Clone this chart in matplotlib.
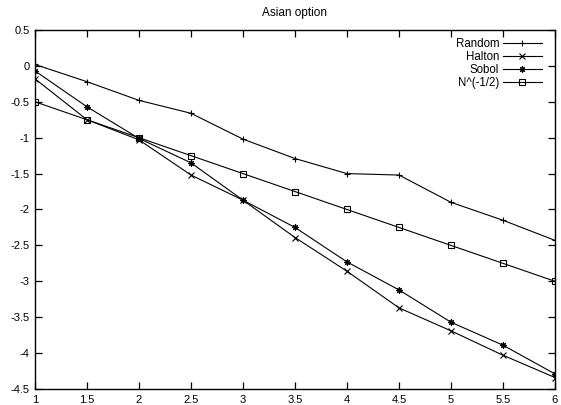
import matplotlib
matplotlib.use("Agg")
import matplotlib.pyplot as plt

x = [1, 1.5, 2, 2.5, 3, 3.5, 4, 4.5, 5, 5.5, 6]
random_vals = [0.02, -0.22, -0.48, -0.66, -1.02, -1.29, -1.50, -1.52, -1.90, -2.15, -2.43]
halton_vals = [-0.18, -0.75, -1.03, -1.52, -1.87, -2.39, -2.86, -3.37, -3.69, -4.03, -4.34]
sobol_vals = [-0.07, -0.57, -1.01, -1.35, -1.87, -2.25, -2.73, -3.12, -3.57, -3.89, -4.29]
nhalf_vals = [-0.5, -0.75, -1.0, -1.25, -1.5, -1.75, -2.0, -2.25, -2.5, -2.75, -3.0]
labels = ["Random", "Halton", "Sobol", "N^(-1/2)"]
title = "Asian option"
xticks = [1, 1.5, 2, 2.5, 3, 3.5, 4, 4.5, 5, 5.5, 6]
yticks = [0.5, 0, -0.5, -1, -1.5, -2, -2.5, -3, -3.5, -4, -4.5]

plt.rcParams['font.family'] = ['Liberation Sans', 'DejaVu Sans']

fig = plt.figure(figsize=(5.61, 4.05), dpi=100)
ax = fig.add_axes([35/561, 16/405, 520/561, 359/405])

lw = 0.8
mew = 0.8
ax.plot(x, random_vals, color='black', lw=lw, marker='+', ms=4.5, mew=mew, label=labels[0])
ax.plot(x, halton_vals, color='black', lw=lw, marker='x', ms=4, mew=mew, label=labels[1])
ax.plot(x, sobol_vals, color='black', lw=lw, marker=(8, 2, 0), ms=4.5, mew=mew, label=labels[2])
ax.plot(x, nhalf_vals, color='black', lw=lw, marker='s', ms=4, mew=mew, mfc='none', label=labels[3])

ax.set_xlim(1, 6)
ax.set_ylim(-4.5, 0.5)
ax.set_xticks(xticks)
ax.set_xticklabels([f"{v:g}" for v in xticks])
ax.set_yticks(yticks)
ax.set_yticklabels([f"{v:g}" for v in yticks])
ax.tick_params(direction='in', top=True, right=True, length=5, width=0.9, labelsize=8, pad=4, colors='black')
for s in ax.spines.values():
    s.set_linewidth(1.0)

ax.set_title(title, fontsize=8.5, pad=10)

leg = ax.legend(loc='upper right', frameon=False, markerfirst=False, fontsize=8.3,
                handlelength=3.4, handletextpad=0.3, labelspacing=0.08,
                borderpad=0, borderaxespad=0, bbox_to_anchor=(0.975, 0.977))

fig.savefig("out.png", dpi=100)
